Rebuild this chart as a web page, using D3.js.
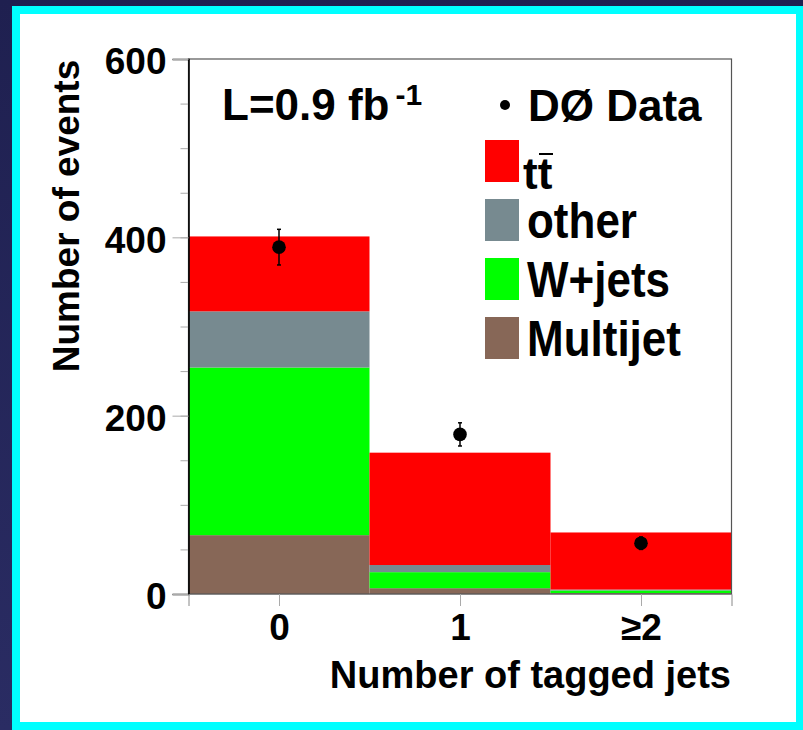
<!DOCTYPE html>
<html>
<head>
<meta charset="utf-8">
<script src="https://cdn.jsdelivr.net/npm/d3@7"></script>
<style>
  body { margin: 0; background: #24265a; }
  text { font-family: "Liberation Sans", Arial, Helvetica, sans-serif; font-weight: bold; }
</style>
</head>
<body>
<div id="chart"></div>
<script>
// data
const bins = ["0", "1", "\u22652"];
const multijet = [66, 6.5, 1];
const wjets = [188, 18, 3];
const other = [63, 8, 1];
const ttbar = [84, 126, 64];
const dataVals = [389, 179, 57];
const dataErr = [20, 13, 7];

const legendKeys = ["ttbar", "other", "wjets", "multijet"];
const legendLabels = ["tt", "other", "W+jets", "Multijet"];
const colors = {ttbar: "#ff0000", other: "#778a90", wjets: "#00ff00", multijet: "#876757"};

const W = 803, H = 730;

const svg = d3.select("#chart")
  .append("svg")
  .attr("width", W)
  .attr("height", H);

// background + frame
const grad = svg.append("defs").append("linearGradient")
  .attr("id", "bg").attr("x1", 0).attr("y1", 0).attr("x2", 0).attr("y2", 1);
grad.append("stop").attr("offset", "0%").attr("stop-color", "#1f2050");
grad.append("stop").attr("offset", "100%").attr("stop-color", "#2a2c63");
svg.append("rect").attr("width", W).attr("height", H).attr("fill", "url(#bg)");
svg.append("rect").attr("x", 12).attr("y", 6).attr("width", W - 12).attr("height", H - 6).attr("fill", "#00ffff");
svg.append("rect").attr("x", 20).attr("y", 14).attr("width", 776).attr("height", 708).attr("fill", "#ffffff");

// scales
let x = d3.scaleLinear().domain([-0.5, 2.5]).range([188.5, 731.5]);
let y = d3.scaleLinear().domain([0, 600]).range([594, 59]);

// stacked histogram
const rows = bins.map((b, i) => ({bin: i, multijet: multijet[i], wjets: wjets[i], other: other[i], ttbar: ttbar[i]}));
const stacked = d3.stack().keys(["multijet", "wjets", "other", "ttbar"])(rows);

svg.append("g")
  .selectAll("g")
  .data(stacked)
  .join("g")
  .attr("fill", d => colors[d.key])
  .selectAll("rect")
  .data(d => d)
  .join("rect")
  .attr("x", d => x(d.data.bin - 0.5))
  .attr("width", d => x(d.data.bin + 0.5) - x(d.data.bin - 0.5))
  .attr("y", d => y(d[1]))
  .attr("height", d => y(d[0]) - y(d[1]));

// frame
svg.append("rect")
  .attr("x", x(-0.5)).attr("y", y(600))
  .attr("width", x(2.5) - x(-0.5)).attr("height", y(0) - y(600))
  .attr("fill", "none").attr("stroke", "#555").attr("stroke-width", 1.2);

// y axis: minor ticks every 50
svg.append("g")
  .attr("transform", `translate(${x(-0.5)},0)`)
  .call(d3.axisLeft(y).tickValues(d3.range(0, 601, 50)).tickSize(8).tickFormat(""))
  .call(g => g.select(".domain").remove())
  .call(g => g.selectAll("line").attr("stroke", "#aaa"));

// y axis: major ticks and labels
svg.append("g")
  .attr("transform", `translate(${x(-0.5)},0)`)
  .call(d3.axisLeft(y).tickValues([0, 200, 400, 600]).tickSize(16).tickPadding(6))
  .call(g => g.select(".domain").attr("stroke", "#000").attr("stroke-width", 1.6))
  .call(g => g.selectAll(".tick line").attr("stroke", "#aaa"))
  .call(g => g.selectAll(".tick text")
    .attr("fill", "#000").attr("dy", "0.4em")
    .style("font-size", "37px").style("font-family", "Liberation Sans, Arial, sans-serif").style("font-weight", "bold"));

// x axis
svg.append("g")
  .attr("transform", `translate(0,${y(0)})`)
  .call(d3.axisBottom(x).tickValues([0, 1, 2]).tickSize(12).tickPadding(8).tickFormat(d => bins[d]))
  .call(g => g.select(".domain").attr("stroke", "#888"))
  .call(g => g.selectAll(".tick line").attr("stroke", "#aaa"))
  .call(g => g.selectAll(".tick text")
    .attr("fill", "#000")
    .style("font-size", "37px").style("font-family", "Liberation Sans, Arial, sans-serif").style("font-weight", "bold"));

// axis titles
svg.append("text")
  .attr("x", 731)
  .attr("y", 688)
  .attr("text-anchor", "end")
  .style("font-size", "38px")
  .text("Number of tagged jets");

svg.append("text")
  .attr("transform", "translate(79,216) rotate(-90)")
  .attr("text-anchor", "middle")
  .style("font-size", "37px")
  .text("Number of events");

// data points with error bars
const pts = svg.append("g");
pts.selectAll("line.err")
  .data(dataVals)
  .join("line")
  .attr("class", "err")
  .attr("x1", (d, i) => x(i)).attr("x2", (d, i) => x(i))
  .attr("y1", (d, i) => y(d - dataErr[i]))
  .attr("y2", (d, i) => y(d + dataErr[i]))
  .attr("stroke", "#000").attr("stroke-width", 1.5);
pts.selectAll("line.cap")
  .data(dataVals.flatMap((d, i) => [[i, d - dataErr[i]], [i, d + dataErr[i]]]))
  .join("line")
  .attr("class", "cap")
  .attr("x1", d => x(d[0]) - 2).attr("x2", d => x(d[0]) + 2)
  .attr("y1", d => y(d[1])).attr("y2", d => y(d[1]))
  .attr("stroke", "#000").attr("stroke-width", 1.5);
pts.selectAll("circle")
  .data(dataVals)
  .join("circle")
  .attr("cx", (d, i) => x(i))
  .attr("cy", d => y(d))
  .attr("r", 6.8)
  .attr("fill", "#000");

// luminosity label
const lumi = svg.append("text")
  .attr("x", 222)
  .attr("y", 120)
  .style("font-size", "44px");
lumi.append("tspan").text("L=0.9 fb");
lumi.append("tspan").attr("dx", 6).attr("dy", -15).style("font-size", "30px").text("-1");

// legend
svg.append("circle").attr("cx", 505).attr("cy", 105).attr("r", 5).attr("fill", "#000");
svg.append("text").attr("x", 528).attr("y", 121).style("font-size", "44px").text("D\u00d8 Data");

let size = 34, boxH = 42;
const leg = svg.append("g");
leg.selectAll("rect")
  .data(legendKeys)
  .join("rect")
  .attr("x", 485)
  .attr("y", (d, i) => 140 + i * 59)
  .attr("width", size)
  .attr("height", boxH)
  .attr("fill", d => colors[d]);

leg.selectAll("text")
  .data(legendLabels)
  .join("text")
  .attr("transform", (d, i) => i == 0 ? "translate(523,189)" : `translate(527,${140 + i * 59 + boxH - 3}) scale(1,1.12)`)
  .style("font-size", "44px")
  .text(d => d);

// bar over the second t
leg.append("line")
  .attr("x1", 539).attr("x2", 553)
  .attr("y1", 154).attr("y2", 154)
  .attr("stroke", "#000").attr("stroke-width", 2);
</script>
</body>
</html>
